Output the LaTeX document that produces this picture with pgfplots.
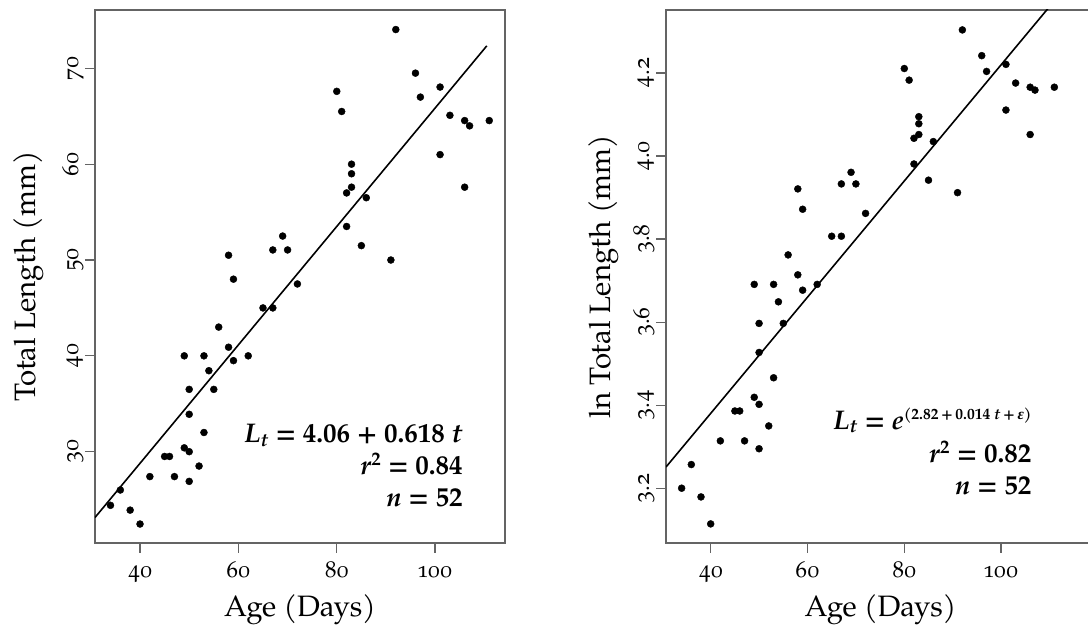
\documentclass[border=0pt]{standalone}
\usepackage{fontspec}
\setmainfont{texgyrepagella}[Extension=.otf, UprightFont=*-regular, BoldFont=*-bold, ItalicFont=*-italic, BoldItalicFont=*-bolditalic]
\newfontfamily\osf{texgyrepagella}[Extension=.otf, UprightFont=*-regular, Numbers=OldStyle]
\newfontfamily\libs{Liberation Serif}
\usepackage{pgfplots}
\pgfplotsset{compat=1.18}

\definecolor{axgray}{RGB}{100,100,100}

\pgfplotsset{
  panel/.style={
    scale only axis,
    height=533pt,
    axis line style={draw=axgray, line width=1.3pt},
    tick style={draw=axgray, line width=1.3pt},
    tick align=outside,
    major tick length=10pt,
    tick pos=left,
    xtick={40,60,80,100},
    /pgf/number format/assume math mode=true,
    ticklabel style={font=\osf\fontsize{23}{26}\selectfont, text=black},
    xticklabel style={anchor=base, yshift=-25pt},
    yticklabel style={rotate=90, anchor=base, yshift=6.7pt},
    label style={font=\fontsize{29.5}{34}\selectfont},
    xlabel style={at={(axis description cs:0.5,-0.138)}, anchor=base},
  },
  dots/.style={only marks, mark=*, mark size=3.5pt, black},
  fit/.style={black, line width=1.6pt},
}
\tikzset{note/.style={anchor=base east, font=\bfseries\fontsize{27}{30}\selectfont}}

\pgfplotstableread{
t L
34 24.4
36 26.0
38 23.9
40 22.45
42 27.4
45 29.5
46 29.5
47 27.4
49 30.4
50 30.0
50 26.9
52 28.5
53 32.0
50 33.9
50 36.5
55 36.5
49 40.0
53 40.0
54 38.45
56 43.0
58 40.9
59 39.5
62 40.0
65 45.0
67 45.0
58 50.5
59 48.0
67 51.05
70 51.05
69 52.5
72 47.5
80 67.6
81 65.5
82 57.0
82 53.5
83 60.0
83 59.0
83 57.6
85 51.5
86 56.5
91 50.0
92 74.05
96 69.5
97 67.0
101 68.05
101 61.0
103 65.1
106 64.55
107 64.0
106 57.6
111 64.55
}\lengthdata

\pgfplotstableread{
t lnL
34 3.200
36 3.257
38 3.179
40 3.114
42 3.314
45 3.386
46 3.386
47 3.314
49 3.419
50 3.402
50 3.295
52 3.350
53 3.466
50 3.527
50 3.597
55 3.597
54 3.649
49 3.691
53 3.691
56 3.762
58 3.714
59 3.677
62 3.691
58 3.921
59 3.872
65 3.807
67 3.807
67 3.933
69 3.961
70 3.933
72 3.862
80 4.211
81 4.183
82 3.981
82 4.043
83 4.052
83 4.078
83 4.095
85 3.942
86 4.035
91 3.912
92 4.304
96 4.242
97 4.204
101 4.221
101 4.111
103 4.176
106 4.166
107 4.159
106 4.052
111 4.166
}\logdata

\begin{document}
\begin{tikzpicture}
\useasboundingbox (0,0) rectangle (1088pt,626pt);

% left panel: total length
\begin{axis}[panel,
    at={(95pt,83pt)}, anchor=south west,
    width=410pt,
    xmin=30.85, xmax=114.2,
    ymin=20.47, ymax=76.09,
    ytick={30,40,50,60,70},
    xlabel={Age (Days)},
    ylabel={Total Length (mm)},
    ylabel style={at={(axis description cs:-0.144,0.5)}, anchor=base},
]
\addplot[fit] coordinates {(30.85,23.13) (110.5,72.35)};
\addplot[dots] table[x=t, y=L] {\lengthdata};
\node[note] at (axis cs:106.3,30.94)
  {\textit{L}\textsubscript{\textit{t}} = 4.06 + 0.618 \textit{t}};
\node[note] at (axis cs:106.3,27.57) {\textit{r}\textsuperscript{2} = 0.84};
\node[note] at (axis cs:106.3,24.26) {\textit{n} = 52};
\end{axis}

% right panel: ln total length
\begin{axis}[panel,
    at={(666pt,83pt)}, anchor=south west,
    width=429pt,
    xmin=30.77, xmax=119.4,
    ymin=3.068, ymax=4.352,
    ytick={3.2,3.4,3.6,3.8,4.0,4.2},
    yticklabel style={/pgf/number format/.cd, fixed, fixed zerofill, precision=1},
    xlabel={Age (Days)},
    ylabel={ln Total Length (mm)},
    ylabel style={at={(axis description cs:-0.129,0.5)}, anchor=base},
]
\addplot[fit] coordinates {(30.77,3.251) (112,4.388)};
\addplot[dots] table[x=t, y=lnL] {\logdata};
\node[note] at (axis cs:107.0,3.342)
  {\textit{L}\textsubscript{\textit{t}} = \textit{e}\raisebox{10pt}{\fontsize{15.5}{18}\selectfont(2.82\,+\,0.014 \textit{t}\,+\,{\libs\bfseries\itshape ε})}};
\node[note] at (axis cs:107.0,3.262) {\textit{r}\textsuperscript{2} = 0.82};
\node[note] at (axis cs:107.0,3.186) {\textit{n} = 52};
\end{axis}
\end{tikzpicture}
\end{document}
